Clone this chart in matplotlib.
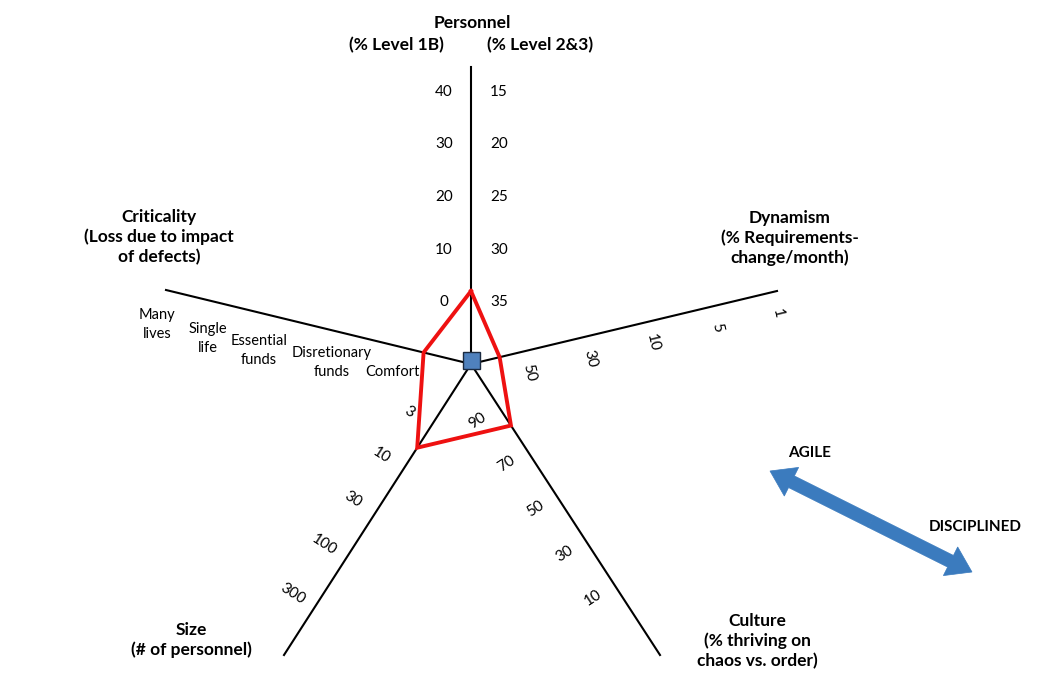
import numpy as np
import matplotlib
matplotlib.use("Agg")
import matplotlib.pyplot as plt
from matplotlib.patches import Rectangle, FancyArrow

plt.rcParams['font.family'] = ['Lato', 'DejaVu Sans']

# --- data -------------------------------------------------------------
personnel_left = ["0", "10", "20", "30", "40"]      # % Level 1B
personnel_right = ["35", "30", "25", "20", "15"]    # % Level 2&3
dynamism_ticks = ["50", "30", "10", "5", "1"]
culture_ticks = ["90", "70", "50", "30", "10"]
size_ticks = ["3", "10", "30", "100", "300"]
criticality_ticks = ["Comfort", "Disretionary\nfunds", "Essential\nfunds",
                     "Single\nlife", "Many\nlives"]

# project profile, in tick steps from the innermost tick of each axis
profile_pos = {"Personnel": 0.21, "Dynamism": -0.39, "Culture": 0.43,
               "Size": 0.5, "Criticality": -0.43}

# --- layout (pixel space) ----------------------------------------------
W, H = 1038, 686
center = np.array([471.0, 364.0])
axis_end = {"Personnel": (471, 67), "Dynamism": (777, 291), "Culture": (660, 655),
            "Size": (284, 655), "Criticality": (166, 290)}
tick_dist = {"Personnel": [62, 114, 167, 220, 272],
             "Dynamism": [54, 117, 182, 248, 310],
             "Culture": [51, 103, 156, 210, 263],
             "Size": [74, 125, 178, 232, 290],
             "Criticality": [75, 136, 209, 262, 314]}
order = ["Personnel", "Dynamism", "Culture", "Size", "Criticality"]


def unit(name):
    v = np.array(axis_end[name], float) - center
    return v / np.hypot(*v)


def along(name, pos):
    d = np.array(tick_dist[name], float)
    if pos < 0:
        return d[0] + pos * (d[1] - d[0])
    return np.interp(pos, np.arange(len(d)), d)


def angle(name):
    u = unit(name)
    return np.degrees(np.arctan2(-u[1], u[0]))


fig = plt.figure(figsize=(W / 100, H / 100), dpi=100)
ax = fig.add_axes([0, 0, 1, 1])
ax.set_xlim(0, W)
ax.set_ylim(H, 0)
ax.axis("off")

# spokes
for name in order:
    ex, ey = axis_end[name]
    ax.plot([center[0], ex], [center[1], ey], color="black", lw=1.5, zorder=2)

# personnel ticks
for i, (l, r) in enumerate(zip(personnel_left, personnel_right)):
    y = center[1] - tick_dist["Personnel"][i]
    ax.text(center[0] - 27, y, l, ha="center", va="center", fontsize=11)
    ax.text(center[0] + 28, y, r, ha="center", va="center", fontsize=11)

# rotated numeric ticks, placed beside each spoke
rot_axes = [("Dynamism", dynamism_ticks, 22, -90),
            ("Culture", culture_ticks, 25, 90),
            ("Size", size_ticks, 26, 90)]
for name, labels, off, turn in rot_axes:
    u = unit(name)
    n = np.array([-u[1], u[0]])
    for i, lab in enumerate(labels):
        p = center + u * tick_dist[name][i] + n * off
        ax.text(p[0], p[1], lab, ha="center", va="center", fontsize=11,
                rotation=angle(name) + turn, rotation_mode="anchor")

# criticality category ticks (one text per line)
crit_off = [26, 31, 37, 37, 36]
u = unit("Criticality")
n = np.array([-0.236, 0.972])
for i, lab in enumerate(criticality_ticks):
    p = center + u * tick_dist["Criticality"][i] + n * crit_off[i]
    lines = lab.split("\n")
    for j, line in enumerate(lines):
        dy = (j - (len(lines) - 1) / 2) * 19
        ax.text(p[0], p[1] + dy, line, ha="center", va="center", fontsize=10.5)

# project profile polygon
pts = [center + unit(nm) * along(nm, profile_pos[nm]) for nm in order]
pts.append(pts[0])
pts = np.array(pts)
ax.plot(pts[:, 0], pts[:, 1], color="#EE1111", lw=2.8, zorder=3,
        solid_joinstyle="miter")

# centre square
ax.add_patch(Rectangle((center[0] - 8.5, center[1] - 12.5), 17, 17,
                       facecolor="#4F81BD", edgecolor="#1a2a40", lw=1, zorder=4))

# axis titles
tkw = dict(ha="center", va="center", fontsize=12.5, fontweight="bold", linespacing=1.25)
ax.text(472, 23, "Personnel", **tkw)
ax.text(396, 45, "(% Level 1B)", **tkw)
ax.text(540, 45, "(% Level 2&3)", **tkw)
ax.text(790, 238, "Dynamism\n(% Requirements-\nchange/month)", **tkw)
ax.text(159, 237, "Criticality\n(Loss due to impact\nof defects)", **tkw)
ax.text(191, 640, "Size\n(# of personnel)", **tkw)
ax.text(757, 641, "Culture\n(% thriving on\nchaos vs. order)", **tkw)

# agile / disciplined arrow
a, b = np.array([770.0, 471.0]), np.array([972.0, 572.0])
mid = (a + b) / 2
for tip in (a, b):
    d = tip - mid
    ax.add_patch(FancyArrow(mid[0], mid[1], d[0], d[1], width=13, head_width=32,
                            head_length=24, length_includes_head=True,
                            facecolor="#3B7BBE", edgecolor="#3B7BBE", lw=0.5, zorder=2))
ax.text(810, 453, "AGILE", ha="center", va="center", fontsize=11, fontweight="bold")
ax.text(975, 527, "DISCIPLINED", ha="center", va="center", fontsize=11, fontweight="bold")

fig.savefig("out.png", dpi=100)
